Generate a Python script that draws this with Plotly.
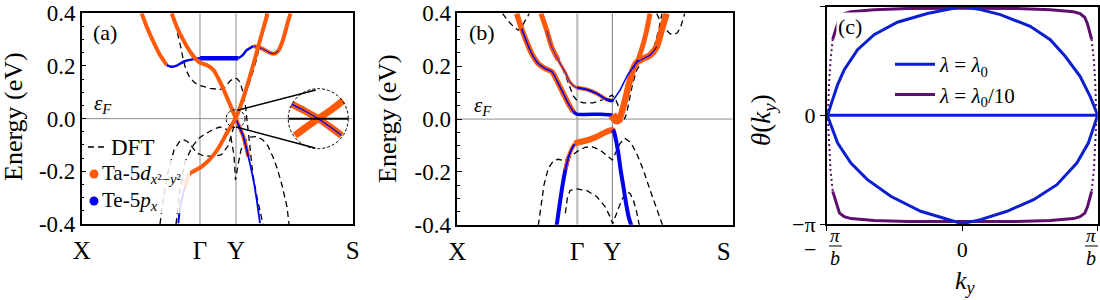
import plotly.graph_objects as go

SERIF = "Liberation Serif"
ORANGE = "#ff5a0a"
BLUE = "#0000f0"
MIXPURPLE = "#6a2a9a"
C_BLUE = "#0c1fd0"
C_PURPLE = "#5e0e6e"
GRID = "#8c8c8c"

# ---------------- k-path / ticks ----------------
KPATH_LABELS = ["X", "Γ", "Y", "S"]
KPATH_A = [0.0, 0.4365, 0.5694, 1.0]
KPATH_B = [0.0, 0.4359, 0.5630, 0.967]
ENERGY_TICKS = [-0.4, -0.2, 0.0, 0.2, 0.4]
ENERGY_TICKTEXT = ["-0.4", "-0.2", "0.0", "0.2", "0.4"]
THETA_TICKS = [-1, 0, 1]
THETA_TICKTEXT = ["−π", "0", "π"]

# ---------------- panel (a): model bands ----------------
A1_k = [0.2214, 0.2399, 0.2645, 0.289, 0.3137, 0.332, 0.3506, 0.3752, 0.412, 0.4367, 0.578,
        0.594, 0.609, 0.6335, 0.664, 0.695, 0.7097, 0.7257, 0.7405, 0.753, 0.7626, 0.771]
A1_E = [0.3995, 0.349, 0.292, 0.2415, 0.2035, 0.197, 0.201, 0.216, 0.226, 0.229, 0.229,
        0.2415, 0.260, 0.2756, 0.2667, 0.250, 0.2465, 0.258, 0.292, 0.336, 0.374, 0.3995]
A2_k = [0.3321, 0.3506, 0.3752, 0.40, 0.4244, 0.4367, 0.4613, 0.4859, 0.5105, 0.535, 0.5535,
        0.568, 0.584, 0.5966, 0.615, 0.6335, 0.6458, 0.658]
A2_E = [0.3995, 0.349, 0.298, 0.254, 0.2225, 0.2124, 0.2035, 0.1846, 0.140, 0.0834, 0.039,
        0.0013, -0.0367, -0.068, -0.144, -0.2326, -0.3085, -0.397]
A3_k = [0.3567, 0.3604, 0.369, 0.3813, 0.3973, 0.4182, 0.4428, 0.4736, 0.5043, 0.535, 0.568,
        0.594, 0.6187, 0.6396, 0.658, 0.674, 0.6863]
A3_E = [-0.397, -0.359, -0.3085, -0.258, -0.210, -0.197, -0.182, -0.154, -0.1125, -0.0556, 0.0013,
        0.0708, 0.153, 0.2288, 0.298, 0.355, 0.3995]

# panel (a): DFT bands
DA1_k = [0.3369, 0.348, 0.3565, 0.3664, 0.3749, 0.3849, 0.3996, 0.418, 0.4365, 0.4734, 0.5103, 0.5288,
         0.5472, 0.562, 0.573, 0.584, 0.5952, 0.6044, 0.61, 0.6155, 0.6229, 0.6321, 0.6469, 0.669]
DA1_E = [0.400, 0.355, 0.311, 0.268, 0.2227, 0.185, 0.1545, 0.1357, 0.1259, 0.1152, 0.1107, 0.120,
         0.1427, 0.1541, 0.1524, 0.139, 0.1012, 0.048, -0.0051, -0.062, -0.138, -0.214, -0.2985, -0.401]
DA2_k = [0.2889, 0.300, 0.3185, 0.3406, 0.3627, 0.3775, 0.3923, 0.4070, 0.4255, 0.4513, 0.4882, 0.514,
         0.5399, 0.5546, 0.5694, 0.599, 0.6247, 0.6469, 0.6653, 0.6801]
DA2_E = [-0.400, -0.309, -0.203, -0.119, -0.0845, -0.081, -0.0888, -0.1077, -0.1305, -0.1419, -0.1419,
         -0.138, -0.104, -0.0548, 0.0025, 0.0785, 0.1544, 0.2303, 0.3176, 0.400]
DA3_k = [0.348, 0.3627, 0.3812, 0.407, 0.4292, 0.4550, 0.4882, 0.5103, 0.5325, 0.551, 0.5620, 0.5675,
         0.5768, 0.5878, 0.6026, 0.6211, 0.6469, 0.669, 0.6875, 0.706, 0.7207, 0.7391, 0.7576, 0.765]
DA3_E = [-0.400, -0.271, -0.1645, -0.1077, -0.0774, -0.0584, -0.0394, -0.0318, -0.0394, -0.0736, -0.138,
         -0.2329, -0.176, -0.119, -0.085, -0.0697, -0.0678, -0.081, -0.1035, -0.1454, -0.1871, -0.2517,
         -0.3352, -0.400]

# panel (a): zoomed inset of the Dirac crossing
INSET_ARM1_k = [0.775, 0.824, 0.873, 0.916, 0.9594]
INSET_ARM1_E = [0.055, 0.029, 0.0, -0.031, -0.064]
INSET_ARM2_k = [0.787, 0.8277, 0.873, 0.92, 0.9653]
INSET_ARM2_E = [-0.064, -0.033, 0.0, 0.033, 0.069]
INSET_AXIS_k = [0.763, 0.983]
INSET_AXIS_E = [0.0, 0.0]

# ---------------- panel (b): model bands ----------------
C1_k = [0.2155, 0.2337, 0.2518, 0.27, 0.294, 0.3196, 0.3438, 0.3547, 0.3668, 0.385, 0.403, 0.4213,
        0.4334, 0.52, 0.563, 0.5787, 0.5908, 0.603, 0.615, 0.627, 0.639, 0.651, 0.6755, 0.6998,
        0.724, 0.742, 0.760]
C1_E = [0.399, 0.342, 0.292, 0.248, 0.210, 0.191, 0.179, 0.160, 0.135, 0.097, 0.059, 0.028,
        0.019, 0.018, 0.015, -0.004, 0.006, 0.047, 0.097, 0.147, 0.191, 0.214, 0.229, 0.2415,
        0.273, 0.336, 0.399]
C2_k = [0.3039, 0.3245, 0.3426, 0.3668, 0.391, 0.409, 0.4274, 0.4334, 0.4697, 0.506, 0.5424,
        0.5605, 0.5666, 0.5787, 0.5908, 0.615, 0.639, 0.6574, 0.6755, 0.6877, 0.6998]
C2_E = [0.399, 0.336, 0.273, 0.2226, 0.1786, 0.141, 0.122, 0.1195, 0.112, 0.097, 0.074,
        0.069, 0.0717, 0.0906, 0.109, 0.160, 0.1975, 0.225, 0.2855, 0.336, 0.399]
V1_k = [0.3608, 0.3705, 0.3814, 0.3923, 0.4044, 0.4165, 0.4262, 0.4358, 0.4576, 0.4818, 0.506,
        0.530, 0.552, 0.563, 0.569, 0.576, 0.585, 0.593, 0.603, 0.6126, 0.622, 0.632]
V1_E = [-0.4025, -0.331, -0.255, -0.1925, -0.142, -0.111, -0.094, -0.089, -0.084, -0.077, -0.067,
        -0.054, -0.044, -0.0415, -0.048, -0.079, -0.130, -0.192, -0.255, -0.318, -0.369, -0.4025]

# panel (b): DFT bands
DB1_k = [0.1646, 0.185, 0.2058, 0.2215, 0.2373, 0.2518, 0.2615]
DB1_E = [0.399, 0.371, 0.348, 0.336, 0.355, 0.380, 0.399]
DB2_k = [0.3366, 0.3547, 0.3729, 0.391, 0.4068, 0.4213, 0.4358, 0.4576, 0.4939, 0.530, 0.563, 0.576,
         0.5884, 0.598, 0.6065, 0.615, 0.6247, 0.6368, 0.6513, 0.6695, 0.6937, 0.7143, 0.7312, 0.7433]
DB2_E = [0.298, 0.258, 0.216, 0.170, 0.1245, 0.087, 0.069, 0.0616, 0.0616, 0.074, 0.0906, 0.0717,
         0.040, 0.015, -0.001, 0.021, 0.0717, 0.1346, 0.185, 0.215, 0.235, 0.273, 0.336, 0.399]
DB3_k = [0.2942, 0.3027, 0.3148, 0.3305, 0.3487, 0.3668, 0.385, 0.403, 0.4213, 0.4395, 0.4637, 0.4879,
         0.518, 0.5424, 0.563, 0.575, 0.5908, 0.609, 0.6295, 0.651, 0.6755, 0.6998, 0.724, 0.7458]
DB3_E = [-0.4025, -0.331, -0.249, -0.186, -0.158, -0.152, -0.157, -0.148, -0.132, -0.1195, -0.107, -0.104,
         -0.117, -0.136, -0.155, -0.127, -0.092, -0.073, -0.088, -0.1296, -0.1925, -0.268, -0.343, -0.4025]
DB4_k = [0.3923, 0.3995, 0.4092, 0.4334, 0.4697, 0.506, 0.5363, 0.5545, 0.5642, 0.5787, 0.5969, 0.615,
         0.627, 0.639, 0.651, 0.661]
DB4_E = [-0.356, -0.299, -0.270, -0.264, -0.270, -0.293, -0.331, -0.3686, -0.396, -0.356, -0.3057, -0.277,
         -0.2805, -0.3057, -0.350, -0.4025]
DB5_k = [0.724, 0.7385, 0.754, 0.7724, 0.7845, 0.799, 0.811, 0.821, 0.8257]
DB5_E = [0.399, 0.367, 0.342, 0.323, 0.318, 0.326, 0.348, 0.380, 0.399]

# ---------------- panel (c): Wilson loop (theta in units of pi, k_y in units of pi/b) ----------------
CB_UP_k = [-1.0, -0.988, -0.956, -0.919, -0.870, -0.821, -0.772, -0.65, -0.478, -0.257, -0.110, 0.0,
           0.135, 0.282, 0.502, 0.65, 0.76, 0.870, 0.944, 1.0]
CB_UP_t = [0.0, 0.021, 0.144, 0.282, 0.420, 0.518, 0.604, 0.742, 0.856, 0.936, 0.972, 1.0,
           0.972, 0.926, 0.819, 0.696, 0.543, 0.359, 0.175, 0.0]
CB_LO_k = [-1.0, -0.988, -0.919, -0.821, -0.699, -0.527, -0.306, -0.11, 0.0, 0.135, 0.331, 0.527,
           0.699, 0.846, 0.931, 1.0]
CB_LO_t = [0.0, -0.025, -0.255, -0.439, -0.592, -0.745, -0.883, -0.960, -0.997, -0.960, -0.883, -0.776,
           -0.638, -0.439, -0.255, 0.0]
CB_ZERO_k = [-1.0, 1.0]
CB_ZERO_t = [0.0, 0.0]
CP_TOP_k = [-0.955, -0.94, -0.925, -0.905, -0.87, -0.821, -0.65, -0.404, 0.0, 0.404, 0.65, 0.821, 0.87,
            0.905, 0.925, 0.94, 0.955]
CP_TOP_t = [0.70, 0.76, 0.84, 0.90, 0.935, 0.952, 0.972, 0.982, 0.985, 0.982, 0.972, 0.952, 0.935,
            0.90, 0.84, 0.76, 0.70]
CP_BOT_k = [-0.955, -0.94, -0.925, -0.905, -0.87, -0.821, -0.65, -0.404, 0.0, 0.404, 0.65, 0.821, 0.87,
            0.905, 0.925, 0.94, 0.955]
CP_BOT_t = [-0.70, -0.76, -0.84, -0.90, -0.932, -0.95, -0.968, -0.977, -0.978, -0.977, -0.968, -0.95,
            -0.932, -0.90, -0.84, -0.76, -0.70]
CP_LEFT_k = [-0.955, -0.972, -0.982, -0.988, -0.99, -0.988, -0.982, -0.972, -0.955]
CP_LEFT_t = [0.70, 0.5, 0.3, 0.1, 0.0, -0.1, -0.3, -0.5, -0.70]
CP_RIGHT_k = [0.955, 0.972, 0.982, 0.988, 0.99, 0.988, 0.982, 0.972, 0.955]
CP_RIGHT_t = [0.70, 0.5, 0.3, 0.1, 0.0, -0.1, -0.3, -0.5, -0.70]

fig = go.Figure()


def seg(k, E, i0, i1, color, width, xa, ya, shape="spline"):
    fig.add_trace(go.Scatter(
        x=k[i0:i1 + 1], y=E[i0:i1 + 1], mode="lines",
        line=dict(color=color, width=width, shape=shape, smoothing=0.6),
        showlegend=False, hoverinfo="skip", xaxis=xa, yaxis=ya))


def dft(k, E, xa, ya):
    fig.add_trace(go.Scatter(
        x=k, y=E, mode="lines", line=dict(color="black", width=1.3, dash="6px,4px"),
        showlegend=False, hoverinfo="skip", xaxis=xa, yaxis=ya))


# ---- panel (a) ----
for k, E in [(DA1_k, DA1_E), (DA2_k, DA2_E), (DA3_k, DA3_E)]:
    dft(k, E, "x", "y")
seg(A1_k, A1_E, 0, 4, ORANGE, 4, "x", "y")
seg(A1_k, A1_E, 4, 9, BLUE, 2.5, "x", "y")
seg(A1_k, A1_E, 9, 10, BLUE, 4.5, "x", "y", "linear")
seg(A1_k, A1_E, 10, 13, BLUE, 2.5, "x", "y")
seg(A1_k, A1_E, 13, 21, ORANGE, 4, "x", "y")
seg(A1_k, A1_E, 13, 17, BLUE, 1, "x", "y")
seg(A2_k, A2_E, 0, 14, ORANGE, 4, "x", "y")
seg(A2_k, A2_E, 11, 17, BLUE, 1.8, "x", "y")
seg(A3_k, A3_E, 0, 3, BLUE, 2, "x", "y")
seg(A3_k, A3_E, 3, 16, ORANGE, 4, "x", "y")
for arm_k, arm_E in [(INSET_ARM1_k, INSET_ARM1_E), (INSET_ARM2_k, INSET_ARM2_E)]:
    fig.add_trace(go.Scatter(x=arm_k, y=arm_E, mode="lines", line=dict(color=ORANGE, width=7, shape="spline"),
                             showlegend=False, hoverinfo="skip", xaxis="x", yaxis="y"))
fig.add_trace(go.Scatter(x=INSET_ARM1_k, y=INSET_ARM1_E, mode="lines", line=dict(color=BLUE, width=1.2, shape="spline"),
                         showlegend=False, hoverinfo="skip", xaxis="x", yaxis="y"))
fig.add_trace(go.Scatter(x=INSET_AXIS_k, y=INSET_AXIS_E, mode="lines", line=dict(color="black", width=2),
                         showlegend=False, hoverinfo="skip", xaxis="x", yaxis="y"))

# ---- panel (b) ----
for k, E in [(DB1_k, DB1_E), (DB2_k, DB2_E), (DB3_k, DB3_E), (DB4_k, DB4_E), (DB5_k, DB5_E)]:
    dft(k, E, "x2", "y2")
seg(C1_k, C1_E, 0, 11, ORANGE, 5.5, "x2", "y2")
seg(C1_k, C1_E, 1, 11, BLUE, 1.5, "x2", "y2")
seg(C1_k, C1_E, 11, 14, BLUE, 3.5, "x2", "y2")
seg(C1_k, C1_E, 14, 26, ORANGE, 6.5, "x2", "y2")
seg(C1_k, C1_E, 14, 16, ORANGE, 9, "x2", "y2")
seg(C1_k, C1_E, 20, 24, BLUE, 1.2, "x2", "y2")
seg(C2_k, C2_E, 0, 3, ORANGE, 5, "x2", "y2")
seg(C2_k, C2_E, 3, 7, ORANGE, 3, "x2", "y2")
seg(C2_k, C2_E, 1, 7, MIXPURPLE, 1.3, "x2", "y2")
seg(C2_k, C2_E, 7, 11, ORANGE, 4, "x2", "y2")
seg(C2_k, C2_E, 7, 12, BLUE, 2, "x2", "y2")
seg(C2_k, C2_E, 10, 12, BLUE, 3, "x2", "y2")
seg(C2_k, C2_E, 12, 17, BLUE, 1.5, "x2", "y2")
seg(C2_k, C2_E, 17, 20, ORANGE, 5, "x2", "y2")
seg(V1_k, V1_E, 0, 4, BLUE, 4, "x2", "y2")
seg(V1_k, V1_E, 3, 6, ORANGE, 4, "x2", "y2")
seg(V1_k, V1_E, 3, 6, BLUE, 2, "x2", "y2")
seg(V1_k, V1_E, 6, 14, ORANGE, 6, "x2", "y2")
seg(V1_k, V1_E, 13, 21, BLUE, 4, "x2", "y2")

# ---- panel (c) ----
blue_x = CB_UP_k + [None] + CB_ZERO_k + [None] + CB_LO_k
blue_y = CB_UP_t + [None] + CB_ZERO_t + [None] + CB_LO_t
purple_x = CP_TOP_k + [None] + CP_BOT_k
purple_y = CP_TOP_t + [None] + CP_BOT_t
fig.add_trace(go.Scatter(x=purple_x, y=purple_y, mode="lines", line=dict(color=C_PURPLE, width=3),
                         name="<i>λ</i> = <i>λ</i><sub>0</sub>/10", legendrank=2, hoverinfo="skip",
                         xaxis="x3", yaxis="y3"))
fig.add_trace(go.Scatter(x=CP_LEFT_k + [None] + CP_RIGHT_k, y=CP_LEFT_t + [None] + CP_RIGHT_t, mode="lines",
                         line=dict(color=C_PURPLE, width=2, dash="2px,3px"), showlegend=False,
                         hoverinfo="skip", xaxis="x3", yaxis="y3"))
fig.add_trace(go.Scatter(x=blue_x, y=blue_y, mode="lines", line=dict(color=C_BLUE, width=3),
                         name="<i>λ</i> = <i>λ</i><sub>0</sub>", legendrank=1, hoverinfo="skip",
                         xaxis="x3", yaxis="y3"))

# ---------------- shapes ----------------
shapes = []
for kv in KPATH_A[1:3]:
    shapes.append(dict(type="line", xref="x", yref="y", x0=kv, x1=kv, y0=-0.4, y1=0.4,
                       line=dict(color=GRID, width=1), layer="below"))
shapes.append(dict(type="line", xref="x", yref="y", x0=0, x1=1, y0=0, y1=0,
                   line=dict(color=GRID, width=1), layer="below"))
shapes.append(dict(type="line", xref="x2", yref="y2", x0=KPATH_B[1], x1=KPATH_B[1], y0=-0.4, y1=0.4,
                   line=dict(color="#c4c4c4", width=2.5), layer="below"))
shapes.append(dict(type="line", xref="x2", yref="y2", x0=KPATH_B[2], x1=KPATH_B[2], y0=-0.4, y1=0.4,
                   line=dict(color="#7a7a7a", width=1), layer="below"))
shapes.append(dict(type="line", xref="x2", yref="y2", x0=0, x1=1, y0=0, y1=0,
                   line=dict(color=GRID, width=1), layer="below"))
shapes.append(dict(type="circle", xref="x", yref="y", x0=0.7623, x1=0.9837, y0=-0.1139, y1=0.1139,
                   fillcolor="white", line=dict(color="white", width=0), layer="below"))
shapes.append(dict(type="circle", xref="x", yref="y", x0=0.7623, x1=0.9837, y0=-0.1139, y1=0.1139,
                   line=dict(color="black", width=1, dash="3px,2px"), layer="above"))
shapes.append(dict(type="circle", xref="x", yref="y", x0=0.533, x1=0.603, y0=-0.034, y1=0.034,
                   line=dict(color="black", width=1, dash="3px,2px"), layer="above"))
shapes.append(dict(type="line", xref="x", yref="y", x0=0.575, y0=0.0317, x1=0.864, y1=0.1088,
                   line=dict(color="black", width=1.5), layer="above"))
shapes.append(dict(type="line", xref="x", yref="y", x0=0.5694, y0=-0.0317, x1=0.861, y1=-0.1114,
                   line=dict(color="black", width=1.5), layer="above"))
shapes.append(dict(type="rect", xref="x", yref="y", x0=0.016, x1=0.40, y0=-0.359, y1=-0.157,
                   fillcolor="white", opacity=0.85, line=dict(width=0), layer="above"))
shapes.append(dict(type="line", xref="paper", yref="paper", x0=88 / 1100, x1=107 / 1100,
                   y0=1 - 147 / 300, y1=1 - 147 / 300, line=dict(color="black", width=1.5, dash="6px,4px")))
shapes.append(dict(type="circle", xref="paper", yref="paper", x0=89.5 / 1100, x1=98.5 / 1100,
                   y0=1 - 178.5 / 300, y1=1 - 169.5 / 300, fillcolor=ORANGE, line=dict(width=0)))
shapes.append(dict(type="circle", xref="paper", yref="paper", x0=89.5 / 1100, x1=98.5 / 1100,
                   y0=1 - 205.5 / 300, y1=1 - 196.5 / 300, fillcolor=BLUE, line=dict(width=0)))
shapes.append(dict(type="line", xref="paper", yref="paper", x0=829 / 1100, x1=842 / 1100,
                   y0=1 - 246 / 300, y1=1 - 246 / 300, line=dict(color="black", width=1)))
shapes.append(dict(type="line", xref="paper", yref="paper", x0=1085 / 1100, x1=1098 / 1100,
                   y0=1 - 246 / 300, y1=1 - 246 / 300, line=dict(color="black", width=1)))


def ann(text, px, py, size, xanchor="center", yanchor="middle", angle=0, bg=None):
    d = dict(text=text, x=px / 1100, y=1 - py / 300, xref="paper", yref="paper", showarrow=False,
             xanchor=xanchor, yanchor=yanchor, textangle=angle,
             font=dict(family=SERIF, size=size, color="black"))
    if bg:
        d["bgcolor"] = bg
    return d


annotations = [
    ann("(a)", 105, 33, 22),
    ann("(b)", 482, 33, 22),
    ann("(c)", 850, 27, 22, bg="white"),
    ann("<i>ε</i><sub><i>F</i></sub>", 92, 104, 21, xanchor="left"),
    ann("<i>ε</i><sub><i>F</i></sub>", 472, 106, 21, xanchor="left"),
    ann("DFT", 109, 147, 23, xanchor="left"),
    ann("Ta-5<i>d</i><sub><i>x</i>²−<i>y</i>²</sub>", 100, 174, 21, xanchor="left"),
    ann("Te-5<i>p</i><sub><i>x</i></sub>", 100, 201, 21, xanchor="left"),
    ann("Energy (eV)", 13, 117, 26, angle=-90),
    ann("Energy (eV)", 387, 119, 26, angle=-90),
    ann("<i>θ</i>(<i>k</i><sub><i>y</i></sub>)", 763, 120, 27, angle=-90),
    ann("<i>k</i><sub><i>y</i></sub>", 965, 282, 26),
    ann("−", 810, 249, 22),
    ann("<i>π</i>", 835, 235, 19),
    ann("<i>b</i>", 835, 258, 20),
    ann("<i>π</i>", 1091, 235, 19),
    ann("<i>b</i>", 1091, 258, 20),
]

ax_common = dict(showgrid=False, zeroline=False, showline=True, mirror=True, linecolor="black",
                 linewidth=1.5, automargin=False)
energy_axis = dict(range=[-0.4, 0.4], tickmode="array", tickvals=ENERGY_TICKS, ticktext=ENERGY_TICKTEXT,
                   ticks="inside", ticklen=5, tickwidth=1.2, tickcolor="black",
                   minor=dict(tick0=0, dtick=0.05, ticks="inside", ticklen=3, tickwidth=1, tickcolor="black"),
                   tickfont=dict(family=SERIF, size=23, color="black"), **ax_common)

fig.update_layout(
    width=1100, height=300, margin=dict(l=0, r=0, t=0, b=0, autoexpand=False),
    paper_bgcolor="white", plot_bgcolor="white",
    xaxis=dict(domain=[0.0743, 0.3206], range=[0, 1], anchor="y", tickmode="array", tickvals=KPATH_A,
               ticktext=KPATH_LABELS, ticks="", ticklabelstandoff=3,
               tickfont=dict(family=SERIF, size=25, color="black"), **ax_common),
    yaxis=dict(domain=[0.2533, 0.9557], anchor="x", **energy_axis),
    xaxis2=dict(domain=[0.4157, 0.6661], range=[0, 1], anchor="y2", tickmode="array", tickvals=KPATH_B,
                ticktext=KPATH_LABELS, ticks="", ticklabelstandoff=3,
                tickfont=dict(family=SERIF, size=25, color="black"), **ax_common),
    yaxis2=dict(domain=[0.2505, 0.9557], anchor="x2", **energy_axis),
    xaxis3=dict(domain=[0.7515, 0.9979], range=[-1, 1], anchor="y3", tickmode="array", tickvals=THETA_TICKS,
                ticktext=["", "0", ""], ticks="outside", ticklen=5, tickcolor="black",
                tickfont=dict(family=SERIF, size=22, color="black"), **ax_common),
    yaxis3=dict(domain=[0.2533, 0.978], range=[-1, 1], anchor="x3", tickmode="array", tickvals=THETA_TICKS,
                ticktext=THETA_TICKTEXT, ticks="outside", ticklen=5, tickcolor="black",
                tickfont=dict(family=SERIF, size=22, color="black"), **ax_common),
    legend=dict(x=890 / 1100, y=1 - 44 / 300, xanchor="left", yanchor="top", bgcolor="rgba(0,0,0,0)",
                font=dict(family=SERIF, size=21, color="black"), itemwidth=40, tracegroupgap=0),
    shapes=shapes, annotations=annotations,
)

fig.write_html("out.html", config={"displayModeBar": False},
               post_script="document.body.style.margin='0';")
